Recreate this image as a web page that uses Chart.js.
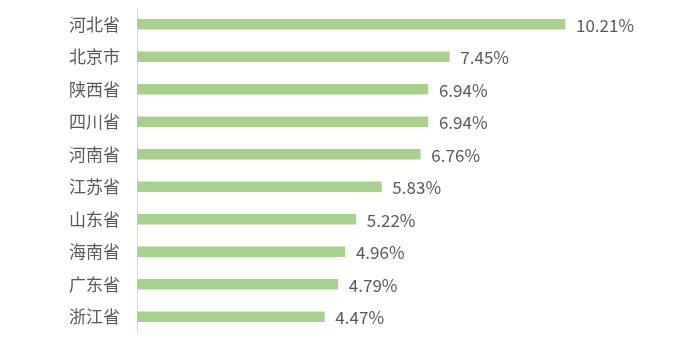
<!DOCTYPE html>
<html>
<head>
<meta charset="utf-8">
<script src="https://cdn.jsdelivr.net/npm/chart.js@4"></script>
<style>
  html, body { margin: 0; padding: 0; background: #fff; }
  #wrap { width: 681px; height: 347px; }
</style>
</head>
<body>
<div id="wrap"><canvas id="chart"></canvas></div>
<script>
const provinces = ['河北省', '北京市', '陕西省', '四川省', '河南省', '江苏省', '山东省', '海南省', '广东省', '浙江省'];
const shares = [10.21, 7.45, 6.94, 6.94, 6.76, 5.83, 5.22, 4.96, 4.79, 4.47];

const FONT = '"Noto Sans CJK SC", "Noto Sans", sans-serif';
const TEXT = '#595959';

// value labels at bar ends
const valueLabels = {
    id: 'valueLabels',
    afterDatasetsDraw(chart) {
        const ctx = chart.ctx;
        const meta = chart.getDatasetMeta(0);
        ctx.save();
        ctx.font = '17px ' + FONT;
        ctx.fillStyle = TEXT;
        ctx.textAlign = 'left';
        ctx.textBaseline = 'middle';
        meta.data.forEach((bar, i) => {
            ctx.fillText(shares[i].toFixed(2) + '%', bar.x + 11, bar.y + 1);
        });
        ctx.restore();
    }
};

new Chart(document.getElementById('chart'), {
    type: 'bar',
    data: {
        labels: provinces,
        datasets: [{
            data: shares,
            backgroundColor: '#a9d18e',
            barThickness: 10,
            borderWidth: 0
        }]
    },
    options: {
        indexAxis: 'y',
        responsive: true,
        maintainAspectRatio: false,
        animation: false,
        layout: { padding: { top: 8, bottom: 14, left: 0, right: 41 } },
        scales: {
            x: { display: false, min: 0, max: 12 },
            y: {
                afterFit(scale) {
                    scale.width = 137;
                    scale.paddingTop = 0;
                    scale.paddingBottom = 0;
                },
                grid: { display: false, drawTicks: false },
                border: { display: true, color: '#d9d9d9', width: 1 },
                ticks: { padding: 17, color: TEXT, font: { family: FONT, size: 17 } }
            }
        },
        plugins: { legend: { display: false }, tooltip: { enabled: false } }
    },
    plugins: [valueLabels]
});
</script>
</body>
</html>
